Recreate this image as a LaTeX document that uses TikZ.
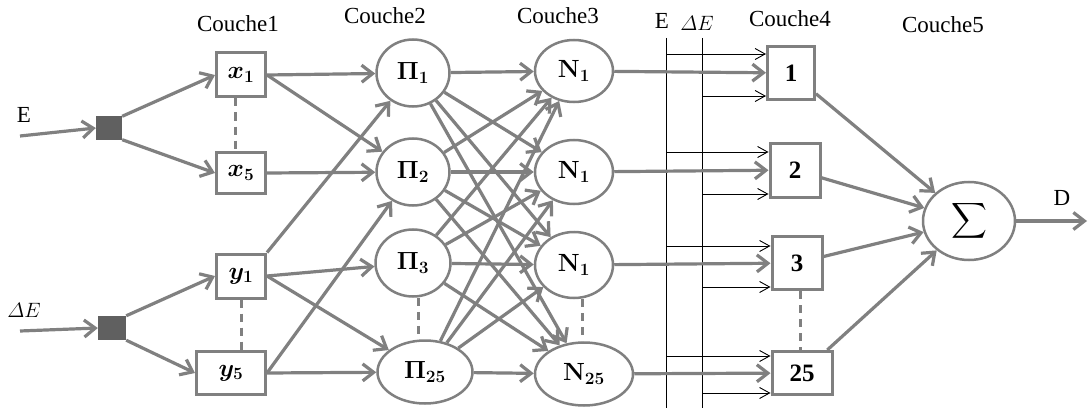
\documentclass[tikz,border=0pt]{standalone}
\usepackage{amsmath}
\usepackage[no-math]{fontspec}
\setmainfont{Liberation Serif}
\usetikzlibrary{arrows.meta,shapes.geometric}
\definecolor{lg}{RGB}{128,128,128}
\definecolor{sq}{RGB}{96,96,96}
\begin{document}
\begin{tikzpicture}[x=1pt,y=-1pt,font=\fontsize{23}{26}\selectfont,
  gbox/.style={rectangle,draw=lg,line width=3pt,fill=white,inner sep=0pt,font=\fontsize{25}{28}\selectfont},
  ell/.style={ellipse,draw=lg,line width=2.5pt,fill=white,inner sep=0pt,font=\fontsize{25}{28}\selectfont},
  sqr/.style={rectangle,fill=sq,inner sep=0pt},
  conn/.style={draw=lg,line width=3.2pt,-{Straight Barb[length=11pt,width=17pt]}},
  thinarr/.style={draw=black,line width=0.9pt,-{Straight Barb[length=10pt,width=11pt]}},
  thinline/.style={draw=black,line width=0.9pt},
  dsh/.style={draw=lg,line width=3pt,dash pattern=on 8pt off 6pt},
  lbl/.style={inner sep=0pt},
  small/.style={inner sep=0pt,font=\fontsize{20}{24}\selectfont}]
\useasboundingbox (0,0) rectangle (1088,412);
\fill[white] (0,0) rectangle (1088,412);

% labels
\node[lbl] (c1) at (238,24) {Couche1};
\node[lbl] (c2) at (385,16) {Couche2};
\node[lbl] (c3) at (558,16) {Couche3};
\node[lbl] (c4) at (790,19) {Couche4};
\node[lbl] (c5) at (943,25) {Couche5};
\node[lbl] (le) at (24,115) {E};
\node[small] (lde) at (24,310) {$\varDelta E$};
\node[lbl] (lte) at (662,21) {E};
\node[small] (ltde) at (697,23) {$\varDelta E$};
\node[lbl] (ld) at (1062,198) {D};

% vertical lines E and Delta E
\coordinate (eT) at (666,38); \coordinate (eB) at (666,408);
\coordinate (dT) at (702,38); \coordinate (dB) at (702,408);
\draw[thinline] (eT) -- (eB);
\draw[thinline] (dT) -- (dB);

% layer 1
\node[sqr,minimum width=26pt,minimum height=23pt] (s1) at (109,128) {};
\node[sqr,minimum width=28pt,minimum height=24pt] (s2) at (112,328) {};
\node[gbox,minimum width=49pt,minimum height=44pt] (x1) at (241,75) {$\boldsymbol{x_1}$};
\node[gbox,minimum width=49pt,minimum height=41pt] (x5) at (241,173) {$\boldsymbol{x_5}$};
\node[gbox,minimum width=49pt,minimum height=44pt] (y1) at (241,276) {$\boldsymbol{y_1}$};
\node[gbox,minimum width=69pt,minimum height=43pt] (y5) at (231,373) {$\boldsymbol{y_5}$};

% layer 2
\node[ell,minimum width=73pt,minimum height=67pt] (P1) at (413,73) {$\boldsymbol{\Pi_1}$};
\node[ell,minimum width=73pt,minimum height=67pt] (P2) at (413,172) {$\boldsymbol{\Pi_2}$};
\node[ell,minimum width=75pt,minimum height=67pt] (P3) at (413,263) {$\boldsymbol{\Pi_3}$};
\node[ell,minimum width=95pt,minimum height=63pt] (P25) at (425,372) {$\boldsymbol{\Pi_{25}}$};

% layer 3
\node[ell,minimum width=78pt,minimum height=62pt] (N1a) at (574,71) {$\mathbf{N_1}$};
\node[ell,minimum width=78pt,minimum height=64pt] (N1b) at (574,172) {$\mathbf{N_1}$};
\node[ell,minimum width=78pt,minimum height=66pt] (N1c) at (574,265) {$\mathbf{N_1}$};
\node[ell,minimum width=98pt,minimum height=63pt] (N25) at (584,374) {$\mathbf{N_{25}}$};

% layer 4
\node[gbox,minimum width=47pt,minimum height=53pt] (B1) at (791,73) {\textbf{1}};
\node[gbox,minimum width=50pt,minimum height=54pt] (B2) at (795,170) {\textbf{2}};
\node[gbox,minimum width=50pt,minimum height=53pt] (B3) at (797,263) {\textbf{3}};
\node[gbox,minimum width=60pt,minimum height=43pt] (B25) at (802,373) {\textbf{25}};

% layer 5
\node[ell,minimum width=92pt,minimum height=78pt,font=\fontsize{28}{32}\selectfont] (S) at (969,221) {$\displaystyle\sum$};

% inputs
\coordinate (ein) at (20,136);
\coordinate (dein) at (20,331);
\draw[conn] (ein) -- (s1.west);
\draw[conn] (dein) -- (s2.west);
\draw[conn] (s1.north east) -- (x1.west);
\draw[conn] (s1.south east) -- (x5.west);
\draw[conn] (s2.north east) -- (y1.west);
\draw[conn] (s2.south east) -- (y5.west);

% layer 1 -> 2
\draw[conn] (x1.east) -- (P1);
\draw[conn] (x1.east) -- (P2);
\draw[conn] (x5.east) -- (P2);
\draw[conn] (y1.north east) -- (P1);
\draw[conn] (y1.east) -- (P3);
\draw[conn] (y1.east) -- (P25);
\draw[conn] (y5.east) -- (P2);
\draw[conn] (y5.east) -- (P25);

% layer 2 -> 3
\foreach \a in {P1,P2,P3,P25}
  \foreach \b in {N1a,N1b,N1c,N25}
    \draw[conn] (\a) -- (\b);

% layer 3 -> 4
\draw[conn] (N1a) -- (B1);
\draw[conn] (N1b) -- (B2);
\draw[conn] (N1c) -- (B3);
\draw[conn] (N25) -- (B25);

% thin arrows from E and Delta E
\coordinate (e1) at (666,54);  \coordinate (d1) at (702,96);
\coordinate (e2) at (666,152); \coordinate (d2) at (702,194);
\coordinate (e3) at (666,246); \coordinate (d3) at (702,287);
\coordinate (e4) at (666,356); \coordinate (d4) at (702,393);
\draw[thinarr] (e1) -- (e1 -| B1.west);
\draw[thinarr] (d1) -- (d1 -| B1.west);
\draw[thinarr] (e2) -- (e2 -| B2.west);
\draw[thinarr] (d2) -- (d2 -| B2.west);
\draw[thinarr] (e3) -- (e3 -| B3.west);
\draw[thinarr] (d3) -- (d3 -| B3.west);
\draw[thinarr] (e4) -- (e4 -| B25.west);
\draw[thinarr] (d4) -- (d4 -| B25.west);

% layer 4 -> 5
\draw[conn] (B1) -- (S);
\draw[conn] (B2) -- (S);
\draw[conn] (B3) -- (S);
\draw[conn] (B25) -- (S);
\coordinate (dout) at (1087,221);
\draw[conn] (S) -- (dout);

% dashed links
\draw[dsh] ([xshift=-6pt]x1.south) -- ([xshift=-6pt]x5.north);
\draw[dsh] (y1.south) -- (y1.south |- y5.north);
\draw[dsh] ([xshift=5pt]P3.south) -- ([xshift=5pt]P3.south |- P25.north);
\draw[dsh] ([xshift=8pt]N1c.south) -- ([xshift=8pt]N1c.south |- N25.north);
\draw[dsh] ([xshift=3pt]B3.south) -- ([xshift=3pt]B3.south |- B25.north);
\end{tikzpicture}
\end{document}
